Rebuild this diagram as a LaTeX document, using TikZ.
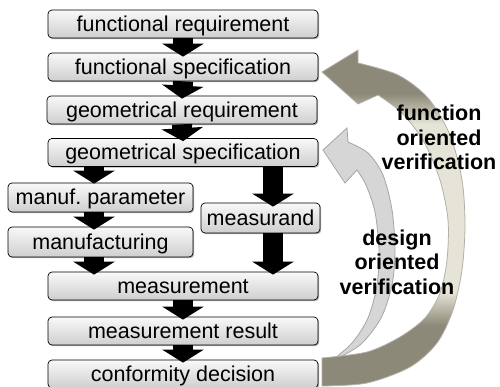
\documentclass[tikz,border=0pt]{standalone}
\usepackage{fontspec}
\setmainfont{Liberation Sans}
\usetikzlibrary{arrows.meta,shadows,calc}
\definecolor{olv}{RGB}{140,137,120}
\definecolor{crm}{RGB}{230,228,214}
\definecolor{olvbrd}{RGB}{178,176,168}
\definecolor{dsgfill}{RGB}{214,214,214}
\definecolor{dsgbrd}{RGB}{165,165,165}
\pgfdeclareverticalshading{funcshade}{100bp}{color(0bp)=(olv); color(34bp)=(olv); color(39bp)=(crm); color(64bp)=(crm); color(68.5bp)=(olv); color(100bp)=(olv)}
\tikzset{
  box/.style={draw=black, line width=0.7pt, rounded corners=4pt,
    top color=gray!5, bottom color=gray!38,
    minimum height=28pt, inner sep=0pt, text height=16pt, text depth=1pt,
    font=\fontsize{21.5}{24}\selectfont,
    drop shadow={opacity=0.3, shadow xshift=1.2pt, shadow yshift=-1.2pt, fill=black}},
  blk/.style={line width=20pt, black, -{Triangle[width=41pt,length=13pt]}},
  lbl/.style={font=\bfseries\fontsize{21.5}{24.5}\selectfont, align=center, inner sep=0pt},
  funcarrow/.style={draw=olvbrd, line width=0.8pt, shade, shading=funcshade},
  dsgarrow/.style={draw=dsgbrd, line width=0.8pt, fill=dsgfill}
}
\begin{document}
\begin{tikzpicture}[x=1pt, y=-1pt]
\path[use as bounding box, fill=white] (0,0) rectangle (500,387);

% design oriented verification arrow (behind)
\path[dsgarrow] (323,150) -- (347,128) -- (348,142)
  -- plot[smooth] coordinates {(348,142) (368,153) (383,175) (392,210) (395,250) (392,285) (381,318) (360,345) (330,362)}
  -- plot[smooth] coordinates {(330,362) (352,343) (368,318) (377,285) (379,250) (375,212) (366,185) (357,170)}
  -- (345,183) -- cycle;

% function oriented verification arrow
\path[funcarrow] (322,72) -- (358,50) -- (358,63)
  -- plot[smooth] coordinates {(358,63) (398,75) (428,98) (450,135) (462,180) (465,225) (462,270) (453,310) (437,343) (410,367) (367,383) (322,386)}
  -- (322,358)
  -- plot[smooth] coordinates {(322,358) (367,352) (400,337) (425,318) (440,293) (447,260) (448,220) (440,180) (424,142) (402,113) (378,95)}
  -- (358,104) -- cycle;

% boxes
\node[box, minimum width=270pt] (fr) at (183,24) {functional requirement};
\node[box, minimum width=270pt] (fs) at (183,67) {functional specification};
\node[box, minimum width=270pt] (gr) at (182,110) {geometrical requirement};
\node[box, minimum width=270pt] (gs) at (183,152.5) {geometrical specification};
\node[box, minimum width=185pt, minimum height=29pt] (mp) at (100.5,197.5) {manuf.\ parameter};
\node[box, minimum width=185pt, minimum height=30pt] (mf) at (100.5,242) {manufacturing};
\node[box, minimum width=119pt, minimum height=30pt] (md) at (260.5,218) {measurand};
\node[box, minimum width=270pt] (ms) at (183,286) {measurement};
\node[box, minimum width=270pt] (mr) at (183,331) {measurement result};
\node[box, minimum width=270pt] (cd) at (183,374) {conformity decision};

% block arrows
\coordinate (lx) at (94,0);
\coordinate (rx) at (273,0);
\draw[blk] (fr.south) -- ($(fs.north)+(0,4)$);
\draw[blk] (fs.south) -- ($(gr.north)+(0,3)$);
\draw[blk] (gr.south) -- ($(gs.north)+(0,3)$);
\draw[blk] (gs.south -| lx) -- ($(mp.north -| lx)+(0,1)$);
\draw[blk] (mp.south -| lx) -- ($(mf.north -| lx)+(0,3)$);
\draw[blk] (mf.south -| lx) -- ($(ms.north -| lx)+(0,3)$);
\draw[blk] (gs.south -| rx) -- ($(md.north -| rx)+(0,4)$);
\draw[blk] (md.south -| rx) -- ($(ms.north -| rx)+(0,3)$);
\draw[blk] (ms.south) -- ($(mr.north)+(0,3)$);
\draw[blk] (mr.south) -- ($(cd.north)+(0,3)$);

% labels
\node[lbl] (fov) at (439,137.5) {function\\oriented\\verification};
\node[lbl] (dov) at (397,262) {design\\oriented\\verification};
\end{tikzpicture}
\end{document}
